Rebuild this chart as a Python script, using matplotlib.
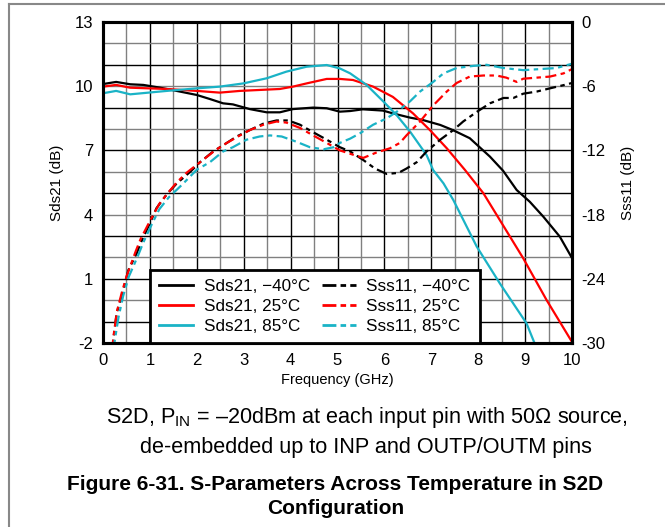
import matplotlib
matplotlib.use("Agg")
import matplotlib.pyplot as plt
from matplotlib.lines import Line2D
import numpy as np

plt.rcParams['font.family'] = ['Liberation Sans', 'DejaVu Sans']
plt.rcParams['mathtext.fontset'] = 'custom'
plt.rcParams['mathtext.rm'] = 'Liberation Sans'
plt.rcParams['axes.unicode_minus'] = False

# Sds21 (left axis, dB)
sds_m40_x = [0, 0.28, 0.58, 0.86, 1.22, 1.57, 2.0, 2.28, 2.56, 2.77, 3.13, 3.49, 3.77, 4.05, 4.48, 4.77,
             5.05, 5.27, 5.54, 5.97, 6.18, 6.55, 6.82, 7.19, 7.46, 7.82, 8.25, 8.53, 8.82, 9.1, 9.39, 9.74, 10.0]
sds_m40_y = [10.1, 10.2, 10.09, 10.06, 9.93, 9.78, 9.59, 9.4, 9.2, 9.15, 8.93, 8.78, 8.78, 8.93, 9.0, 8.97,
             8.81, 8.84, 8.92, 8.86, 8.73, 8.53, 8.42, 8.19, 7.95, 7.57, 6.71, 6.05, 5.15, 4.6, 3.9, 2.97, 1.97]

sds_25_x = [0, 0.28, 0.58, 1.36, 2.0, 2.49, 2.92, 3.77, 4.05, 4.34, 4.77, 5.05, 5.33, 5.76, 6.18, 6.61,
            6.97, 7.33, 7.72, 8.11, 8.46, 8.96, 9.46, 10.0]
sds_25_y = [9.98, 10.06, 9.93, 9.87, 9.78, 9.7, 9.78, 9.87, 9.98, 10.13, 10.34, 10.34, 10.29, 9.98, 9.5, 8.73,
            7.95, 7.1, 6.08, 5.0, 3.75, 1.96, 0.0, -1.95]

sds_85_x = [0, 0.28, 0.58, 1.36, 2.0, 2.49, 2.99, 3.49, 3.91, 4.34, 4.77, 5.05, 5.27, 5.62, 5.98, 6.26,
            6.55, 6.9, 7.04, 7.26, 7.47, 7.97, 8.46, 9.03, 9.2]
sds_85_y = [9.67, 9.78, 9.62, 9.78, 9.9, 9.98, 10.13, 10.37, 10.68, 10.91, 10.99, 10.83, 10.6, 10.06, 9.28, 8.65,
            7.87, 6.78, 6.08, 5.46, 4.68, 2.5, 0.79, -1.08, -2.0]

# Sss11 (right axis, dB)
sss_m40_x = [0.15, 0.22, 0.29, 0.36, 0.43, 0.54, 0.72, 0.82, 1.0, 1.14, 1.36, 1.57, 1.86, 2.07, 2.35, 2.64,
             2.85, 3.13, 3.42, 3.7, 3.95, 4.2, 4.48, 4.77, 5.05, 5.27, 5.55, 5.8, 6.05, 6.3, 6.47, 6.69,
             6.9, 7.19, 7.47, 7.68, 7.97, 8.25, 8.54, 8.75, 8.96, 9.25, 9.53, 9.82, 10.0]
sss_m40_y = [-33, -29.7, -27.2, -26.2, -25.1, -23.2, -21.6, -20.5, -18.8, -17.4, -16.1, -15.1, -14.0, -13.1, -12.1, -11.3,
             -10.7, -10.1, -9.5, -9.2, -9.2, -9.6, -10.3, -11.0, -11.7, -12.1, -12.9, -13.7, -14.2, -14.1, -13.7, -13.1,
             -12.1, -11.0, -10.1, -9.3, -8.4, -7.6, -7.1, -7.1, -6.7, -6.5, -6.2, -5.9, -5.7]

sss_25_x = [0.15, 0.22, 0.3, 0.4, 0.5, 0.7, 0.8, 1.0, 1.2, 1.4, 1.57, 1.78, 2.07, 2.39, 2.64, 2.92,
            3.13, 3.42, 3.7, 3.91, 4.2, 4.48, 4.77, 5.05, 5.33, 5.55, 5.83, 6.12, 6.33, 6.47, 6.76, 7.04,
            7.33, 7.54, 7.82, 8.11, 8.39, 8.6, 8.82, 8.96, 9.25, 9.53, 9.82, 10.0]
sss_25_y = [-33, -29.5, -27, -25.3, -23.8, -21.4, -20.3, -18.6, -17.0, -15.9, -15.0, -14.1, -13.1, -12.0, -11.3, -10.6,
            -10.1, -9.6, -9.3, -9.4, -9.9, -10.6, -11.3, -12.0, -12.4, -12.7, -12.2, -11.8, -11.3, -10.6, -9.3, -7.8,
            -6.5, -5.7, -5.1, -5.0, -5.0, -5.2, -5.6, -5.3, -5.2, -5.1, -4.8, -4.4]

sss_85_x = [0.18, 0.25, 0.33, 0.43, 0.55, 0.75, 0.85, 1.03, 1.2, 1.4, 1.71, 2.0, 2.28, 2.56, 2.77, 3.06,
            3.34, 3.56, 3.81, 4.13, 4.41, 4.7, 4.92, 5.05, 5.27, 5.48, 5.76, 6.05, 6.26, 6.55, 6.76, 7.04,
            7.26, 7.54, 7.9, 8.18, 8.54, 8.96, 9.32, 9.67, 10.0]
sss_85_y = [-33, -29.8, -27.6, -25.6, -23.8, -21.8, -20.7, -19.0, -17.5, -16.4, -15.1, -13.8, -13.1, -12.1, -11.7, -11.0,
            -10.7, -10.6, -10.7, -11.2, -11.7, -11.9, -11.7, -11.3, -10.9, -10.4, -9.6, -9.0, -8.4, -7.4, -6.5, -5.6,
            -4.8, -4.3, -4.1, -4.0, -4.3, -4.5, -4.4, -4.3, -3.9]

left_ticks = [-2, 1, 4, 7, 10, 13]
right_ticks = [-30, -24, -18, -12, -6, 0]
x_ticks = list(range(0, 11))

labels_sds = ["Sds21, \u221240\u00b0C", "Sds21, 25\u00b0C", "Sds21, 85\u00b0C"]
labels_sss = ["Sss11, \u221240\u00b0C", "Sss11, 25\u00b0C", "Sss11, 85\u00b0C"]
colors = ["black", "#ff0000", "#1ab3c6"]

dash = (0, (5, 2, 2, 2))

fig = plt.figure(figsize=(6.65, 5.27), dpi=100)
ax = fig.add_axes([103 / 665, 1 - 343 / 527, 469 / 665, 321 / 527])
ax2 = ax.twinx()

# grid
for gx in np.arange(0.5, 10, 0.5):
    c = 'black' if gx == int(gx) else '#808080'
    ax.axvline(gx, color=c, lw=1.0, zorder=0)
for gy in range(-1, 13):
    c = '#808080' if gy % 2 == 0 else 'black'
    ax.axhline(gy, color=c, lw=1.0, zorder=0)

sds = [(sds_m40_x, sds_m40_y), (sds_25_x, sds_25_y), (sds_85_x, sds_85_y)]
sss = [(sss_m40_x, sss_m40_y), (sss_25_x, sss_25_y), (sss_85_x, sss_85_y)]

for (xs, ys), c in zip(sds, colors):
    ax.plot(xs, ys, color=c, lw=1.6, solid_joinstyle='round')
for (xs, ys), c in zip(sss, colors):
    ax2.plot(xs, ys, color=c, lw=1.6, linestyle=dash)

ax.set_xlim(0, 10)
ax.set_ylim(-2, 13)
ax2.set_ylim(-30, 0)
ax.set_xticks(x_ticks)
ax.set_yticks(left_ticks)
ax2.set_yticks(right_ticks)
ax.tick_params(length=0, labelsize=12, pad=7)
ax2.tick_params(length=0, labelsize=12, pad=7)
for a in (ax, ax2):
    for s in a.spines.values():
        s.set_linewidth(2.2)

ax.set_xlabel("Frequency (GHz)", fontsize=10.5, labelpad=4)
ax.set_ylabel("Sds21 (dB)", fontsize=11, labelpad=8)
ax2.set_ylabel("Sss11 (dB)", fontsize=11, labelpad=11)

handles = []
labels = []
for i in range(3):
    handles.append(Line2D([], [], color=colors[i], lw=2))
    labels.append(labels_sds[i])
for i in range(3):
    handles.append(Line2D([], [], color=colors[i], lw=2, linestyle=(0, (5, 1.5, 2, 1.5))))
    labels.append(labels_sss[i])

leg = ax2.legend(handles, labels, ncol=2, loc='lower left', bbox_to_anchor=(0.1, 0.0),
                 borderaxespad=0, fontsize=12.3, frameon=True, fancybox=False,
                 handlelength=2.0, handletextpad=0.6, columnspacing=0.7,
                 labelspacing=0.28, borderpad=0.55)
leg.get_frame().set_edgecolor('black')
leg.get_frame().set_linewidth(2.0)
leg.get_frame().set_alpha(1)
leg.set_zorder(10)

# caption
fig.text(0.552, 1 - 418 / 527,
         "S2D, P$_{\\mathrm{IN}}$ = \u201320dBm at each input pin with 50\u03a9 source,",
         ha='center', va='center', fontsize=15.6)
fig.text(0.551, 1 - 447 / 527, "de-embedded up to INP and OUTP/OUTM pins",
         ha='center', va='center', fontsize=15.6)
fig.text(0.504, 1 - 485 / 527, "Figure 6-31. S-Parameters Across Temperature in S2D",
         ha='center', va='center', fontsize=15, fontweight='bold')
fig.text(0.505, 1 - 509 / 527, "Configuration",
         ha='center', va='center', fontsize=15, fontweight='bold')

# page frame
fig.add_artist(Line2D([9 / 665, 1], [1 - 4 / 527, 1 - 4 / 527], color='#888888', lw=1.5))
fig.add_artist(Line2D([9 / 665, 9 / 665], [0, 1 - 4 / 527], color='#888888', lw=1.5))

fig.savefig("out.png", dpi=100)
